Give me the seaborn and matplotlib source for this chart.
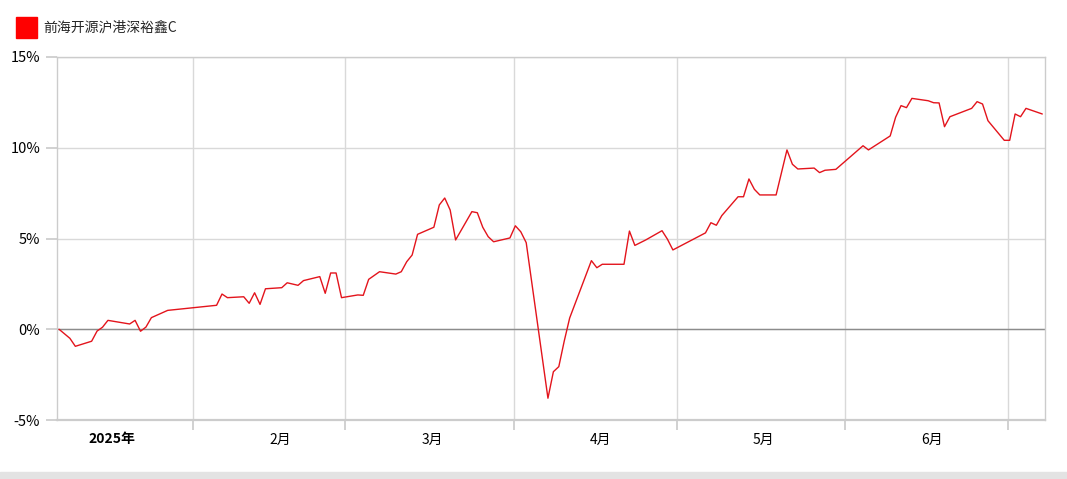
import pandas as pd
import matplotlib
matplotlib.use("Agg")
import matplotlib.pyplot as plt
from matplotlib.patches import Rectangle
import seaborn as sns

# fund name and cumulative return (%)
fund_name = "前海开源沪港深裕鑫C"

dates = [
    "2025-01-07", "2025-01-09", "2025-01-10", "2025-01-13", "2025-01-14",
    "2025-01-15", "2025-01-16", "2025-01-20", "2025-01-21", "2025-01-22",
    "2025-01-23", "2025-01-24", "2025-01-27", "2025-02-05", "2025-02-06",
    "2025-02-07", "2025-02-10", "2025-02-11", "2025-02-12", "2025-02-13",
    "2025-02-14", "2025-02-17", "2025-02-18", "2025-02-20", "2025-02-21",
    "2025-02-24", "2025-02-25", "2025-02-26", "2025-02-27", "2025-02-28",
    "2025-03-03", "2025-03-04", "2025-03-05", "2025-03-07", "2025-03-10",
    "2025-03-11", "2025-03-12", "2025-03-13", "2025-03-14", "2025-03-17",
    "2025-03-18", "2025-03-19", "2025-03-20", "2025-03-21", "2025-03-24",
    "2025-03-25", "2025-03-26", "2025-03-27", "2025-03-28", "2025-03-31",
    "2025-04-01", "2025-04-02", "2025-04-03", "2025-04-07", "2025-04-08",
    "2025-04-09", "2025-04-10", "2025-04-11", "2025-04-15", "2025-04-16",
    "2025-04-17", "2025-04-21", "2025-04-22", "2025-04-23", "2025-04-25",
    "2025-04-28", "2025-04-29", "2025-04-30", "2025-05-06", "2025-05-07",
    "2025-05-08", "2025-05-09", "2025-05-12", "2025-05-13", "2025-05-14",
    "2025-05-15", "2025-05-16", "2025-05-19", "2025-05-21", "2025-05-22",
    "2025-05-23", "2025-05-26", "2025-05-27", "2025-05-28", "2025-05-30",
    "2025-06-04", "2025-06-05", "2025-06-09", "2025-06-10", "2025-06-11",
    "2025-06-12", "2025-06-13", "2025-06-16", "2025-06-17", "2025-06-18",
    "2025-06-19", "2025-06-20", "2025-06-24", "2025-06-25", "2025-06-26",
    "2025-06-27", "2025-06-30", "2025-07-01", "2025-07-02", "2025-07-03",
    "2025-07-04", "2025-07-07",
]

returns = [
    0.00, -0.50, -0.94, -0.66, -0.10,
    0.11, 0.49, 0.29, 0.49, -0.11,
    0.12, 0.64, 1.04, 1.32, 1.94,
    1.74, 1.79, 1.43, 2.01, 1.37,
    2.23, 2.29, 2.56, 2.42, 2.68,
    2.90, 1.98, 3.10, 3.10, 1.74,
    1.89, 1.87, 2.75, 3.17, 3.04,
    3.17, 3.72, 4.09, 5.23, 5.62,
    6.85, 7.23, 6.57, 4.92, 6.48,
    6.42, 5.62, 5.10, 4.82, 5.03,
    5.70, 5.37, 4.77, -3.80, -2.34,
    -2.06, -0.65, 0.62, 3.78, 3.39,
    3.58, 3.58, 5.41, 4.62, 4.92,
    5.43, 4.96, 4.37, 5.31, 5.87,
    5.73, 6.26, 7.30, 7.30, 8.28,
    7.71, 7.40, 7.40, 9.88, 9.09,
    8.83, 8.88, 8.63, 8.76, 8.81,
    10.11, 9.88, 10.65, 11.68, 12.32,
    12.21, 12.72, 12.59, 12.48, 12.47,
    11.16, 11.71, 12.17, 12.54, 12.41,
    11.49, 10.41, 10.41, 11.86, 11.71,
    12.17, 11.86,
]

month_starts = ["2025-02-01", "2025-03-01", "2025-04-01", "2025-05-01",
                "2025-06-01", "2025-07-01"]
label_dates = ["2025-01-17", "2025-02-17", "2025-03-17", "2025-04-17",
               "2025-05-17", "2025-06-17"]
month_labels = ["2025年", "2月", "3月", "4月", "5月", "6月"]
y_ticks = [-5, 0, 5, 10, 15]

# points sit at 08:00 local time (UTC+8) in the source chart
df = pd.DataFrame({"date": pd.to_datetime(dates) + pd.Timedelta(hours=8), "ret": returns})

sns.set_theme(style="white")
plt.rcParams["font.family"] = ["Noto Sans CJK SC", "DejaVu Sans"]

W, H = 1067, 479
fig = plt.figure(figsize=(W / 100, H / 100), dpi=100)
ax = fig.add_axes([57 / W, 1 - 420 / H, (1045 - 57) / W, (420 - 57) / H])

grid_c = "#d9d9d9"
ax.grid(axis="y", color=grid_c, lw=1)
ax.grid(axis="x", which="major", color=grid_c, lw=1)
ax.axhline(0, color="#8c8c8c", lw=1, zorder=1)

sns.lineplot(data=df, x="date", y="ret", color="#e3141c", lw=1.0, ax=ax, zorder=3)

ax.set_xlim(pd.Timestamp(dates[0]) - pd.Timedelta(hours=1),
            pd.Timestamp(dates[-1]) + pd.Timedelta(hours=20))
ax.set_ylim(-5, 15)
ax.set_yticks(y_ticks)
ax.set_yticklabels([f"{v}%" for v in y_ticks])

ax.set_xticks(pd.to_datetime(month_starts))
ax.set_xticklabels([""] * len(month_starts))
ax.set_xticks(pd.to_datetime(label_dates), minor=True)
ax.set_xticklabels(month_labels, minor=True)
ax.get_xticklabels(minor=True)[0].set_fontweight("bold")

ax.tick_params(axis="x", which="major", length=7, color="#cccccc", direction="out", bottom=True)
ax.tick_params(axis="x", which="minor", length=0, pad=9, labelsize=10, labelcolor="black", bottom=True)
ax.tick_params(axis="y", length=8, color="#cccccc", direction="out", pad=4,
               labelsize=10.5, labelcolor="black", left=True)

for side, sp in ax.spines.items():
    sp.set_visible(True)
    sp.set_color("#cccccc")
    sp.set_linewidth(1)
ax.spines["bottom"].set_linewidth(1.6)

ax.set_xlabel("")
ax.set_ylabel("")

# legend swatch and name
fig.patches.append(Rectangle((16 / W, 1 - 38 / H), 21 / W, 21 / H,
                             transform=fig.transFigure, color="#ff0000"))
fig.text(43 / W, 1 - 28 / H, fund_name, fontsize=10, va="center", ha="left")

# light grey strip at the bottom
fig.patches.append(Rectangle((0, 0), 1, 7 / H, transform=fig.transFigure,
                             color="#e3e3e3", zorder=0))

fig.savefig("out.png", dpi=100)
